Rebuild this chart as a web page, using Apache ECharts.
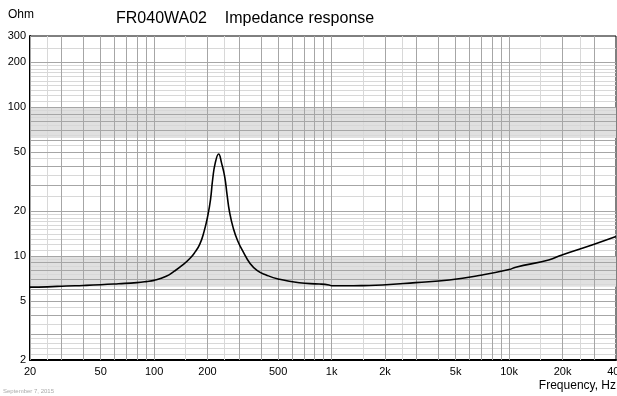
<!DOCTYPE html>
<html>
<head>
<meta charset="utf-8">
<script src="https://cdn.jsdelivr.net/npm/echarts@6/dist/echarts.min.js"></script>
<style>
  html, body { margin: 0; padding: 0; background: #fff; }
  #chart { width: 617px; height: 396px; }
</style>
</head>
<body>
<div id="chart"></div>
<script>
// impedance curve
const freq = [20, 25, 32, 40, 50, 63, 80, 90, 100, 117, 130, 145, 159, 170, 181, 191, 201, 208, 214, 221, 231,
  240, 250, 258, 266, 280, 296, 320, 345, 380, 428, 500, 657, 852, 967, 1000, 1200, 1500, 1930, 2970, 4600,
  7060, 10000, 10900, 16700, 19850, 29300, 40000];
const ohm = [6.17, 6.2, 6.28, 6.33, 6.4, 6.5, 6.62, 6.72, 6.85, 7.3, 7.9, 8.7, 9.6, 10.6, 12.0, 14.5, 18.8, 24,
  33, 42, 48.4, 42, 34, 25.5, 19.8, 15.2, 12.6, 10.5, 9.0, 8.0, 7.45, 7.0, 6.6, 6.48, 6.38, 6.3, 6.3, 6.32,
  6.38, 6.62, 6.9, 7.45, 8.1, 8.4, 9.4, 10.16, 11.85, 13.5];

const xLabels = [20, 50, 100, 200, 500, 1000, 2000, 5000, 10000, 20000, 40000];
const yLabels = [2, 5, 10, 20, 50, 100, 200, 300];

const xGridDark = [20, 30, 40, 50, 60, 70, 80, 90, 100, 200, 300, 400, 500, 600, 700, 800, 900,
  1000, 2000, 3000, 4000, 5000, 6000, 7000, 8000, 9000, 10000, 20000, 30000];
const xGridLight = [25, 150, 250, 1500, 2500, 15000, 25000];
const yGridDark = [3, 4, 5, 6, 7, 8, 9, 10, 20, 30, 40, 50, 60, 70, 80, 90, 100, 200];
const yGridLight = [2.2, 2.4, 2.6, 2.8, 3.5, 4.5, 5.5, 6.5, 7.5, 8.5, 9.5, 11, 12, 13, 14, 15, 16, 17, 18, 19,
  25, 35, 45, 55, 65, 75, 85, 95, 110, 120, 130, 140, 150, 160, 170, 180, 190, 250];
const bands = [[6.2, 10], [62, 100]];

const chart = echarts.init(document.getElementById('chart'));

const fmtHz = v => v >= 1000 ? (v / 1000) + 'k' : String(v);
const lines = (arr, dim, color) => arr.map(v => ({ [dim]: v, lineStyle: { color: color } }));

chart.setOption({
  animation: false,
  backgroundColor: '#fff',
  textStyle: { fontFamily: 'Liberation Sans, Arial, sans-serif' },
  grid: {
    left: 30, right: 1, top: 36, bottom: 36, show: true, borderColor: '#000', borderWidth: 1,
    containLabel: false, outerBoundsMode: 'none'
  },
  graphic: [
    { type: 'text', left: 8, top: 9, style: { text: 'Ohm', fontSize: 12, fill: '#000', fontFamily: 'Liberation Sans' } },
    { type: 'text', left: 116, top: 11, style: { text: 'FR040WA02    Impedance response', fontSize: 16, fill: '#000', fontFamily: 'Liberation Sans' } },
    { type: 'text', right: 1, top: 380, style: { text: 'Frequency, Hz', fontSize: 12, fill: '#000', fontFamily: 'Liberation Sans' } },
    { type: 'text', left: 3, top: 388, style: { text: 'September 7, 2015', fontSize: 6, fill: '#aaa', fontFamily: 'Liberation Sans' } }
  ],
  xAxis: {
    type: 'log', logBase: 10, min: 20, max: 40000,
    axisLine: { show: true, lineStyle: { color: '#000', width: 2 } },
    axisTick: { show: false },
    splitLine: { show: false },
    minorSplitLine: { show: false },
    axisLabel: { customValues: xLabels, formatter: fmtHz, color: '#000', fontSize: 11, margin: 6, hideOverlap: false }
  },
  yAxis: {
    type: 'log', logBase: 10, min: 2, max: 300,
    axisLine: { show: true, lineStyle: { color: '#000', width: 2 } },
    axisTick: { show: false },
    splitLine: { show: false },
    axisLabel: { customValues: yLabels, color: '#000', fontSize: 11, margin: 4 }
  },
  series: [
    {
      type: 'line', data: [[20, 2]], showSymbol: false, lineStyle: { width: 0 }, silent: true, z: 1,
      markArea: {
        silent: true,
        itemStyle: { color: '#e0e0e0' },
        data: bands.map(b => [{ yAxis: b[0] }, { yAxis: b[1] }])
      },
      markLine: {
        silent: true, symbol: ['none', 'none'], label: { show: false }, animation: false,
        lineStyle: { type: 'solid', width: 1 },
        data: lines(xGridLight, 'xAxis', '#d8d8d8').concat(lines(yGridLight, 'yAxis', '#d8d8d8'))
      }
    },
    {
      type: 'line', data: [[20, 2]], showSymbol: false, lineStyle: { width: 0 }, silent: true, z: 2,
      markLine: {
        silent: true, symbol: ['none', 'none'], label: { show: false }, animation: false,
        lineStyle: { type: 'solid', width: 1 },
        data: lines(xGridDark, 'xAxis', '#a6a6a6').concat(lines(yGridDark, 'yAxis', '#a6a6a6'))
      }
    },
    {
      type: 'line', z: 5, smooth: true, showSymbol: false,
      lineStyle: { color: '#000', width: 1.6 },
      data: freq.map((f, i) => [f, ohm[i]])
    }
  ]
});
</script>
</body>
</html>
